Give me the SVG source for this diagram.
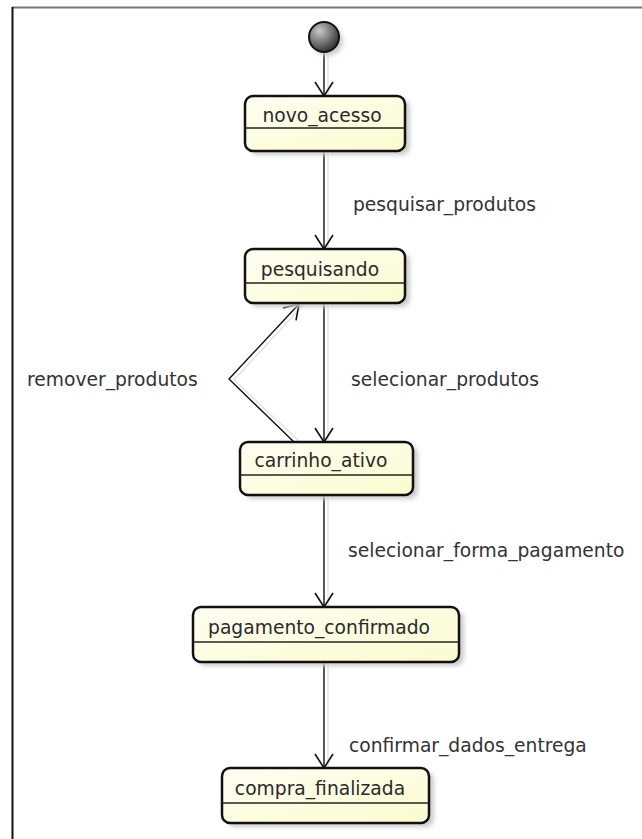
<svg xmlns="http://www.w3.org/2000/svg" width="642" height="839" viewBox="0 0 642 839">
  <defs>
    <linearGradient id="fillState" x1="0" y1="0" x2="1" y2="1">
      <stop offset="0" stop-color="#fefef2"/>
      <stop offset="1" stop-color="#fbfbcf"/>
    </linearGradient>
    <radialGradient id="fillInit" cx="0.35" cy="0.3" r="0.75">
      <stop offset="0" stop-color="#c8c8c8"/>
      <stop offset="1" stop-color="#2e2e2e"/>
    </radialGradient>
    <filter id="blur" x="-20%" y="-20%" width="140%" height="140%">
      <feGaussianBlur stdDeviation="2"/>
    </filter>
    <marker id="arrow" viewBox="-16 -10 18 20" refX="0" refY="0" markerWidth="18" markerHeight="20" markerUnits="userSpaceOnUse" orient="auto">
      <path d="M -14 -9 L 0 0 L -14 9" fill="none" stroke="#111" stroke-width="1.6"/>
    </marker>
  </defs>
  <style>
    .frame-top { stroke: #777; stroke-width: 2; }
    .frame-left { stroke: #111; stroke-width: 2; }
    .shadow { fill: #cccccc; filter: url(#blur); }
    .state { fill: url(#fillState); stroke: #111; stroke-width: 2.5; }
    .sep { stroke: #222; stroke-width: 1.3; }
    .name { font-family: "DejaVu Sans", sans-serif; font-size: 18.7px; fill: #2a2a2a; text-anchor: middle; }
    .label { font-family: "DejaVu Sans", sans-serif; font-size: 18.7px; fill: #333; }
    .edge { fill: none; stroke: #111; stroke-width: 1.4; marker-end: url(#arrow); }
    .ghost { fill: none; stroke: #e2e2e2; stroke-width: 1.4; }
  </style>
  <rect width="642" height="839" fill="#fff"/>
  <line class="frame-top" x1="12" y1="7.5" x2="642" y2="7.5"/>
  <line class="frame-left" x1="12.5" y1="7" x2="12.5" y2="839"/>

  <g id="connectors">
    <path class="ghost" d="M 328 54 L 328 96"/>
    <path class="edge" d="M 324 52 L 324 96"/>
    <path class="ghost" d="M 328 152 L 328 249"/>
    <path class="edge" d="M 324 151 L 324 249"/>
    <text class="label" x="353" y="211">pesquisar_produtos</text>
    <path class="ghost" d="M 328 304 L 328 442"/>
    <path class="edge" d="M 324 303 L 324 442"/>
    <text class="label" x="351" y="386">selecionar_produtos</text>
    <path class="ghost" d="M 300 442 L 234 380 L 304 304"/>
    <path class="edge" d="M 294 442 L 229 379 L 299 304"/>
    <text class="label" x="27" y="386">remover_produtos</text>
    <path class="ghost" d="M 328 496 L 328 607"/>
    <path class="edge" d="M 324 495 L 324 607"/>
    <text class="label" x="348" y="557">selecionar_forma_pagamento</text>
    <path class="ghost" d="M 328 663 L 328 768"/>
    <path class="edge" d="M 324 662 L 324 768"/>
    <text class="label" x="349" y="752">confirmar_dados_entrega</text>
  </g>

  <g id="start">
    <circle class="shadow" cx="328" cy="41" r="15"/>
    <circle cx="324" cy="37" r="15" fill="url(#fillInit)" stroke="#111" stroke-width="2"/>
  </g>

  <g id="novo_acesso">
    <rect class="shadow" x="250" y="100" width="160" height="55" rx="8"/>
    <rect class="state" x="245" y="96" width="160" height="55" rx="8"/>
    <line class="sep" x1="245" y1="128" x2="405" y2="128"/>
    <text class="name" x="322" y="122">novo_acesso</text>
  </g>

  <g id="pesquisando">
    <rect class="shadow" x="250" y="253" width="160" height="54" rx="8"/>
    <rect class="state" x="245" y="249" width="160" height="54" rx="8"/>
    <line class="sep" x1="245" y1="283" x2="405" y2="283"/>
    <text class="name" x="320" y="276">pesquisando</text>
  </g>

  <g id="carrinho_ativo">
    <rect class="shadow" x="245" y="446" width="173" height="53" rx="8"/>
    <rect class="state" x="240" y="442" width="173" height="53" rx="8"/>
    <line class="sep" x1="240" y1="475" x2="413" y2="475"/>
    <text class="name" x="321" y="467">carrinho_ativo</text>
  </g>

  <g id="pagamento_confirmado">
    <rect class="shadow" x="198" y="611" width="266" height="55" rx="8"/>
    <rect class="state" x="193" y="607" width="266" height="55" rx="8"/>
    <line class="sep" x1="193" y1="642" x2="459" y2="642"/>
    <text class="name" x="319" y="634">pagamento_confirmado</text>
  </g>

  <g id="compra_finalizada">
    <rect class="shadow" x="227" y="772" width="207" height="55" rx="8"/>
    <rect class="state" x="222" y="768" width="207" height="55" rx="8"/>
    <line class="sep" x1="222" y1="803" x2="429" y2="803"/>
    <text class="name" x="320" y="795">compra_finalizada</text>
  </g>
</svg>
